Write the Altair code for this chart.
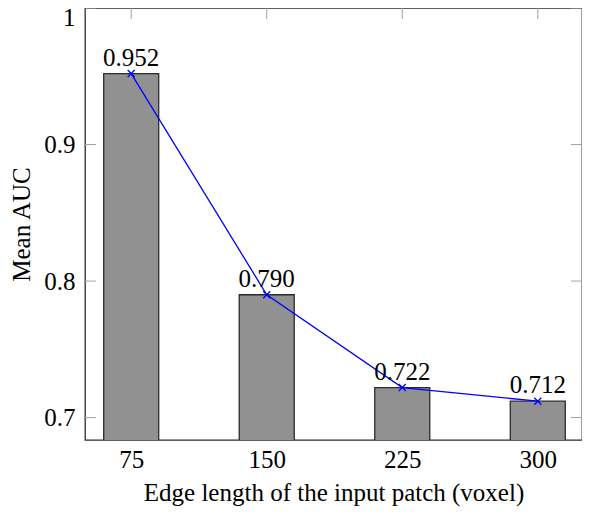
import altair as alt
import pandas as pd


'''
Values read off the figure
'''
edge_lengths = [75, 150, 225, 300]
mean_auc = [0.952, 0.790, 0.722, 0.712]
auc_labels = ['0.952', '0.790', '0.722', '0.712']

x_ticks = [75, 150, 225, 300]
y_ticks = [0.7, 0.8, 0.9, 1.0]

x_domain = [52.2, 321.7]
y_domain = [0.6836, 1.0]

W = 497
H = 432
FONT = 'Liberation Serif'
FS = 25

df = pd.DataFrame({
  'edge': edge_lengths,
  'auc': mean_auc,
  'label': auc_labels
})
xt = pd.DataFrame({'v': x_ticks})
yt = pd.DataFrame({'v': y_ticks})

x_scale = alt.Scale(domain=x_domain, nice=False, zero=False)
y_scale = alt.Scale(domain=y_domain, nice=False, zero=False)

'''
Bars with the axes
'''
bars = alt.Chart(df).mark_bar(
  clip=True, size=55, color='#919191', stroke='#2b2b2b', strokeWidth=1.3
).encode(
  x=alt.X('edge:Q', scale=x_scale, title='Edge length of the input patch (voxel)',
          axis=alt.Axis(values=x_ticks, ticks=False, domain=False, grid=False,
                        labelPadding=7, titlePadding=8, format='d')),
  y=alt.Y('auc:Q', scale=y_scale, title='Mean AUC',
          axis=alt.Axis(values=y_ticks, ticks=False, domain=False, grid=False,
                        labelPadding=10, titlePadding=9, format='~g',
                        labelFlush=True, labelFlushOffset=3))
)

'''
Inward ticks on all four sides
'''
tick_style = dict(color='#a0a0a0', strokeWidth=1)
left_ticks = alt.Chart(yt).mark_rule(**tick_style).encode(
  y=alt.Y('v:Q', scale=y_scale), x=alt.value(0), x2=alt.value(11))
right_ticks = alt.Chart(yt).mark_rule(**tick_style).encode(
  y=alt.Y('v:Q', scale=y_scale), x=alt.value(W - 11), x2=alt.value(W))
top_ticks = alt.Chart(xt).mark_rule(**tick_style).encode(
  x=alt.X('v:Q', scale=x_scale), y=alt.value(0), y2=alt.value(11))
bottom_ticks = alt.Chart(xt).mark_rule(**tick_style).encode(
  x=alt.X('v:Q', scale=x_scale), y=alt.value(H - 11), y2=alt.value(H))

'''
Blue line with x markers and value labels
'''
line = alt.Chart(df).mark_line(color='#0000ff', strokeWidth=1.3).encode(
  x=alt.X('edge:Q', scale=x_scale),
  y=alt.Y('auc:Q', scale=y_scale)
)
points = alt.Chart(df).mark_point(
  shape='M-1,-1L1,1M1,-1L-1,1', size=49, filled=False,
  color='#0000ff', strokeWidth=1.3, opacity=1
).encode(
  x=alt.X('edge:Q', scale=x_scale),
  y=alt.Y('auc:Q', scale=y_scale)
)
labels = alt.Chart(df).mark_text(
  font=FONT, fontSize=FS, baseline='alphabetic', align='center', dy=-8, color='black'
).encode(
  x=alt.X('edge:Q', scale=x_scale),
  y=alt.Y('auc:Q', scale=y_scale),
  text='label:N'
)

chart = alt.layer(
  bottom_ticks, left_ticks, right_ticks, top_ticks, bars, line, points, labels
).properties(
  width=W,
  height=H,
  autosize=alt.AutoSizeParams(type='none'),
  padding={'left': 77, 'top': 0, 'right': 0, 'bottom': 500 - H}
).configure_view(
  stroke='#2b2b2b', strokeWidth=1.3
).configure_axis(
  labelFont=FONT, titleFont=FONT, labelFontSize=FS, titleFontSize=FS,
  labelColor='black', titleColor='black', titleFontWeight='normal'
)

chart.save("out.html", embed_options={"renderer": "svg", "actions": False})
